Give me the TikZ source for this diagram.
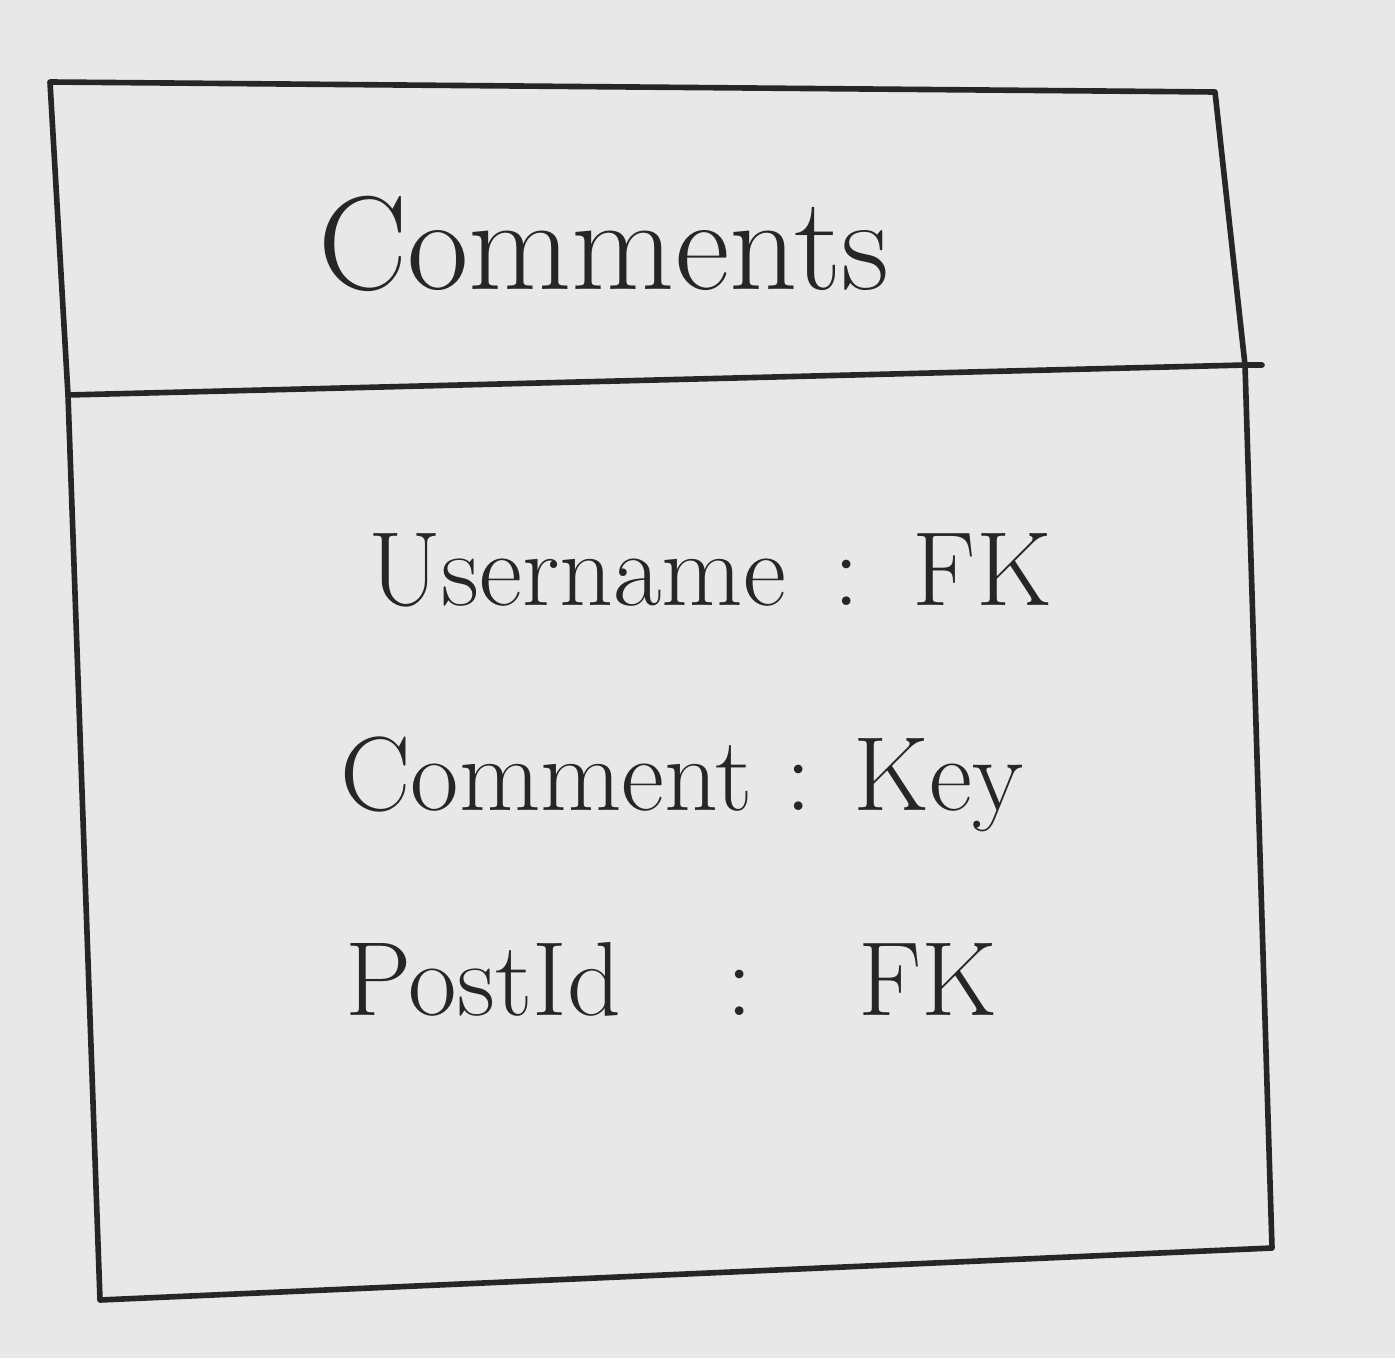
\documentclass[tikz,border=0pt]{standalone}
\begin{document}
\begin{tikzpicture}[x=0.02cm,y=-0.02cm,
  handline/.style={line width=3.2pt,draw=black!85,line join=round,line cap=round},
  titletext/.style={font=\fontsize{76}{80}\selectfont,text=black!85,inner sep=0pt,anchor=base west},
  attrtext/.style={font=\fontsize{60}{66}\selectfont,text=black!85,inner sep=0pt,anchor=base west}]
\fill[black!9] (0,0) rectangle (1395,1358);
\useasboundingbox (0,0) rectangle (1395,1358);
% corners of the hand-drawn class box
\coordinate (tl) at (50,82);
\coordinate (tr) at (1215,92);
\coordinate (dr) at (1245,365);
\coordinate (dl) at (68,395);
\coordinate (br) at (1272,1248);
\coordinate (bl) at (100,1300);
\draw[handline] (tl) -- (tr) -- (dr) -- (br) -- (bl) -- (dl) -- cycle;
\draw[handline] (dl) -- (dr) -- (1262,365);
\node[titletext] (title) at (318,290) {Comments};
\node[attrtext] (a1) at (368,605) {Username\hspace{0.15em} : \hspace{0.1em}FK};
\node[attrtext] (a2) at (340,810) {Comment : Key};
\node[attrtext] (a3) at (345,1015) {PostId\hspace{0.7em} : \hspace{0.6em}FK};
\end{tikzpicture}
\end{document}
